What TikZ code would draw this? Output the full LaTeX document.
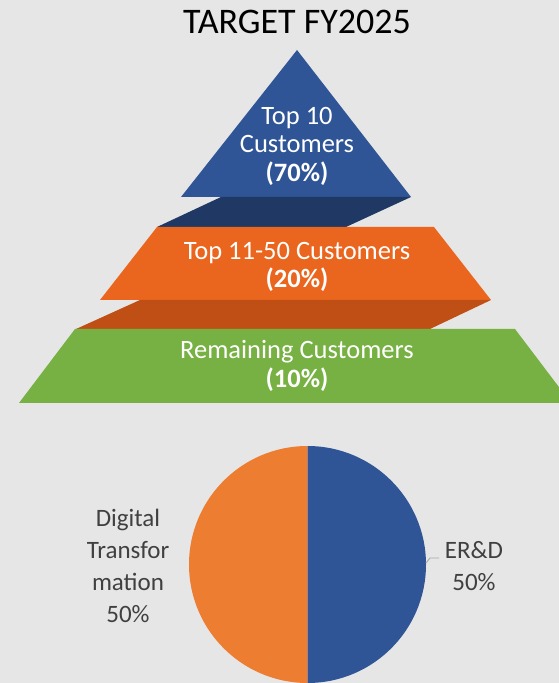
\documentclass[tikz,border=0pt]{standalone}
\usepackage{fontspec}
\setmainfont{Carlito}
\usepackage{tikz}
\usetikzlibrary{positioning}
\usetikzlibrary{calc}

\definecolor{bggray}{HTML}{E7E6E6}
\definecolor{topblue}{HTML}{2F5597}
\definecolor{topshade}{HTML}{1F3864}
\definecolor{midorange}{HTML}{EA661F}
\definecolor{midshade}{HTML}{C04F15}
\definecolor{lowgreen}{HTML}{77B043}
\definecolor{pieorange}{HTML}{ED7D31}
\definecolor{pieblue}{HTML}{2F5597}
\definecolor{labelgray}{HTML}{404040}

\tikzset{
  tierlabel/.style = {text = white, align = center, inner sep = 0pt,
                      font = \fontsize{26.5}{28.5}\selectfont},
  pielabel/.style  = {text = labelgray, align = center, inner sep = 0pt,
                      font = \fontsize{25}{32}\selectfont}
}

\begin{document}
\begin{tikzpicture}[x = 1pt, y = 1pt]
\fill[bggray] (0,0) rectangle (559,683);
\useasboundingbox (0,0) rectangle (559,683);
\clip (0,0) rectangle (559,683);

% pyramid tiers
\fill[topblue]   (297,633) -- (411,486) -- (181,486) -- cycle;
\fill[topshade]  (221,486) -- (411,486) -- (346,456) -- (157,456) -- cycle;
\fill[midorange] (157,456) -- (434,456) -- (491,383) -- (100,383) -- cycle;
\fill[midshade]  (140,383) -- (491,383) -- (430,354) -- (76,354) -- cycle;
\fill[lowgreen]  (75,354) -- (515,354) -- (571,280) -- (19,280) -- cycle;

\node (title) at (297,661) {\fontsize{36}{40}\selectfont TARGET FY2025};
\node[tierlabel] (top10) at (297,537) {Top 10\\Customers\\\textbf{(70\%)}};
\node[tierlabel] (top50) at (297,416) {Top 11-50 Customers\\\textbf{(20\%)}};
\node[tierlabel] (rest)  at (297,317) {Remaining Customers\\\textbf{(10\%)}};

% pie
\coordinate (pc) at (307.5,118.5);
\fill[pieorange] (pc) -- ++(90:118.5) arc (90:270:118.5) -- cycle;
\fill[pieblue]   (pc) -- ++(-90:118.5) arc (-90:90:118.5) -- cycle;

\node[pielabel] (dt)  at (128,117) {Digital\\Transfor\\mation\\50\%};
\node[pielabel] (erd) at (474,117) {ER\&D\\50\%};

\coordinate (lead) at (426,120);
\draw[gray!70, line width = 0.8pt] (lead) -- ++(4,5) -- ++(9,0);
\end{tikzpicture}
\end{document}
